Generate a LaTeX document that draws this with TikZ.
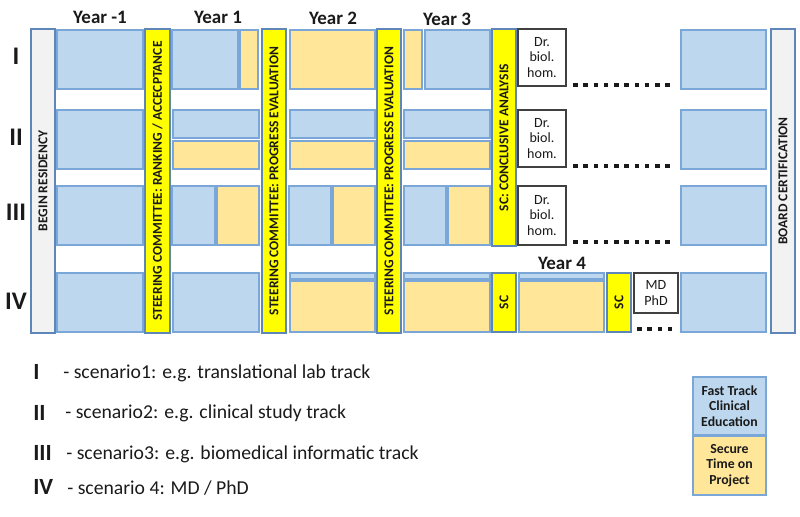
\documentclass[tikz,border=0pt]{standalone}
\usepackage{fontspec}
\setmainfont{Carlito}
\usepackage{tikz}
\usepackage{xcolor}
\usetikzlibrary{positioning}
\definecolor{clinblue}{HTML}{BDD7EE}
\definecolor{projyellow}{HTML}{FFE699}
\definecolor{edgeblue}{HTML}{7BA7D8}
\definecolor{baredge}{HTML}{5F86B8}
\definecolor{scyellow}{HTML}{FFFF00}
\definecolor{resgray}{HTML}{F2F2F2}
\definecolor{ink}{HTML}{1A1A1A}
\definecolor{inkgray}{HTML}{404040}
\tikzset{
  clin/.style={draw=edgeblue,fill=clinblue,line width=0.9pt},
  proj/.style={draw=edgeblue,fill=projyellow,line width=0.9pt},
  scbar/.style={draw=baredge,fill=scyellow,line width=0.9pt},
  resbar/.style={draw=baredge,fill=resgray,line width=0.9pt},
  bartext/.style={rotate=90,inner sep=0pt,text=ink,
                  font=\bfseries\fontsize{9.6}{11}\selectfont},
  degbox/.style={draw=inkgray,fill=white,line width=0.9pt},
  degtext/.style={align=center,inner sep=0pt,text=ink,
                  font=\fontsize{10}{11.2}\selectfont},
  yearlbl/.style={text=ink,font=\bfseries\fontsize{13.5}{16}\selectfont},
  rowlbl/.style={text=ink,font=\bfseries\fontsize{18}{20}\selectfont},
  keylbl/.style={anchor=west,inner sep=0pt,text=ink,
                 font=\bfseries\fontsize{16.5}{18}\selectfont},
  keytext/.style={anchor=west,inner sep=0pt,text=ink,
                  font=\fontsize{14}{16}\selectfont},
  legtext/.style={align=center,inner sep=0pt,text=ink,
                  font=\bfseries\fontsize{9.8}{11.2}\selectfont},
  dotline/.style={draw=ink,line width=2.8pt,dash pattern=on 3.2pt off 4.1pt}
}

\begin{document}
\begin{tikzpicture}[x=0.025cm,y=-0.025cm]
    \useasboundingbox (0,0) rectangle (800,517);
    \node[yearlbl] (yr0) at (100,17) {Year -1};
    \node[yearlbl] (yr1) at (218,17) {Year 1};
    \node[yearlbl] (yr2) at (333,18) {Year 2};
    \node[yearlbl] (yr3) at (447,19) {Year 3};
    \node[yearlbl] (yr4) at (562,263) {Year 4};

    \node[rowlbl] (row1) at (16,56) {I};
    \node[rowlbl] (row2) at (16,137) {II};
    \node[rowlbl] (row3) at (16,212) {III};
    \node[rowlbl] (row4) at (16,301) {IV};

    \draw[resbar] (31,29) rectangle node[bartext] (begin) {BEGIN RESIDENCY} (55,333);
    \draw[resbar] (771,29) rectangle node[bartext] (board) {BOARD CERTIFICATION} (795,333);
    \draw[scbar] (145,29) rectangle node[bartext] (sc1)
      {STEERING COMMITTEE: RANKING / ACCECPTANCE} (170,333);
    \draw[scbar] (262,29) rectangle node[bartext] (sc2)
      {STEERING COMMITTEE: PROGRESS EVALUATION} (286,333);
    \draw[scbar] (377,29) rectangle node[bartext] (sc3)
      {STEERING COMMITTEE: PROGRESS EVALUATION} (401,333);
    \draw[scbar] (492,29) rectangle node[bartext] (sc4)
      {SC: CONCLUSIVE ANALYSIS} (516,246);
    \draw[scbar] (492,273) rectangle node[bartext] (sc5) {SC} (516,332);
    \draw[scbar] (607,273) rectangle node[bartext] (sc6) {SC} (631,332);

    \foreach \ya/\yb in {30/89,110/169,186/245,273/332}{
      \draw[clin] (57,\ya) rectangle (143,\yb);
      \draw[clin] (681,\ya) rectangle (766,\yb);
    }

    \draw[clin] (172,30) rectangle (238,89);
    \draw[proj] (240,30) rectangle (258,89);
    \draw[clin] (173,110) rectangle (259,138);
    \draw[proj] (173,141) rectangle (259,169);
    \draw[clin] (172,186) rectangle (215,245);
    \draw[proj] (217,186) rectangle (259,245);
    \draw[clin] (173,273) rectangle (259,332);

    \draw[proj] (290,30) rectangle (375,89);
    \draw[clin] (290,110) rectangle (375,138);
    \draw[proj] (290,141) rectangle (375,169);
    \draw[clin] (289,186) rectangle (331,245);
    \draw[proj] (333,186) rectangle (375,245);
    \draw[clin] (290,273) rectangle (375,279);
    \draw[proj] (290,281) rectangle (375,332);

    \draw[proj] (404,30) rectangle (422,89);
    \draw[clin] (425,30) rectangle (490,89);
    \draw[clin] (404,110) rectangle (490,138);
    \draw[proj] (404,141) rectangle (490,169);
    \draw[clin] (404,186) rectangle (446,245);
    \draw[proj] (448,186) rectangle (490,245);
    \draw[clin] (404,273) rectangle (490,279);
    \draw[proj] (404,281) rectangle (490,332);

    \draw[clin] (519,273) rectangle (604,279);
    \draw[proj] (519,281) rectangle (604,332);

    \draw[degbox] (518,29) rectangle node[degtext] (dr1) {Dr.\\biol.\\hom.} (566,86);
    \draw[degbox] (518,110) rectangle node[degtext] (dr2) {Dr.\\biol.\\hom.} (566,167);
    \draw[degbox] (518,186) rectangle node[degtext] (dr3) {Dr.\\biol.\\hom.} (566,245);
    \draw[degbox] (634,273) rectangle node[degtext] (mdphd) {MD\\PhD} (678,313);

    \coordinate (dots1a) at (573,85);  \coordinate (dots1b) at (671,85);
    \coordinate (dots2a) at (573,166); \coordinate (dots2b) at (671,166);
    \coordinate (dots3a) at (573,242); \coordinate (dots3b) at (671,242);
    \coordinate (dots4a) at (637,329); \coordinate (dots4b) at (673,329);
    \draw[dotline] (dots1a) -- (dots1b);
    \draw[dotline] (dots2a) -- (dots2b);
    \draw[dotline] (dots3a) -- (dots3b);
    \draw[dotline] (dots4a) -- (dots4b);

    \node[keylbl] (key1) at (33,372) {I};
    \node[keylbl] (key2) at (33,413) {II};
    \node[keylbl] (key3) at (33,453) {III};
    \node[keylbl] (key4) at (33,487) {IV};
    \node[keytext] (txt1) at (63,373) {- scenario1: e.g. translational lab track};
    \node[keytext] (txt2) at (65,413) {- scenario2: e.g. clinical study track};
    \node[keytext] (txt3) at (66,454) {- scenario3: e.g. biomedical informatic track};
    \node[keytext] (txt4) at (67,488) {- scenario 4: MD / PhD};

    \draw[clin] (693,377) rectangle node[legtext] (legclin)
      {Fast Track\\Clinical\\Education} (766,435);
    \draw[proj] (693,436) rectangle node[legtext] (legproj)
      {Secure\\Time on\\Project} (766,495);
  \end{tikzpicture}
\end{document}
